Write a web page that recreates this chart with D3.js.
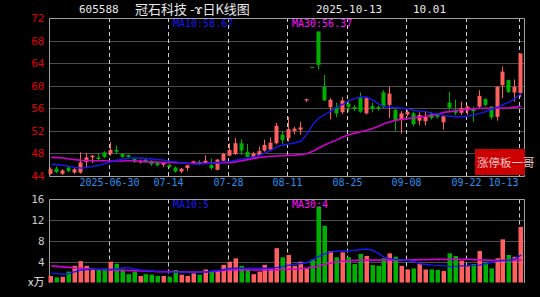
<!DOCTYPE html>
<html>
<head>
<meta charset="utf-8">
<title>605588 冠石科技 日K线图</title>
<script src="https://d3js.org/d3.v7.min.js"></script>
<style>
  body { margin: 0; background: #000; }
  svg { display: block; background: #000; }
</style>
</head>
<body>
<svg id="chart"></svg>
<script>
const dates = [
  "2025-06-16","2025-06-17","2025-06-18","2025-06-19","2025-06-20","2025-06-23","2025-06-24","2025-06-25","2025-06-26","2025-06-27",
  "2025-06-30","2025-07-01","2025-07-02","2025-07-03","2025-07-04","2025-07-07","2025-07-08","2025-07-09","2025-07-10","2025-07-11",
  "2025-07-14","2025-07-15","2025-07-16","2025-07-17","2025-07-18","2025-07-21","2025-07-22","2025-07-23","2025-07-24","2025-07-25",
  "2025-07-28","2025-07-29","2025-07-30","2025-07-31","2025-08-01","2025-08-04","2025-08-05","2025-08-06","2025-08-07","2025-08-08",
  "2025-08-11","2025-08-12","2025-08-13","2025-08-14","2025-08-15","2025-08-18","2025-08-19","2025-08-20","2025-08-21","2025-08-22",
  "2025-08-25","2025-08-26","2025-08-27","2025-08-28","2025-08-29","2025-09-01","2025-09-02","2025-09-03","2025-09-04","2025-09-05",
  "2025-09-08","2025-09-09","2025-09-10","2025-09-11","2025-09-12","2025-09-15","2025-09-16","2025-09-17","2025-09-18","2025-09-19",
  "2025-09-22","2025-09-23","2025-09-24","2025-09-25","2025-09-26","2025-09-29","2025-09-30","2025-10-09","2025-10-10","2025-10-13"
];
const openPx = [44.4,45.3,44.4,45.5,44.6,44.6,46.5,47.3,47.3,48.2, 48.0,48.6,47.9,47.7,47.1,46.4,46.9,46.7,46.5,46.0,
  46.0,45.5,44.8,45.4,46.2,46.5,46.3,45.95,45.1,46.7, 47.6,47.9,49.8,48.3,47.3,47.7,48.5,48.7,49.8,51.3,
  50.7,52.0,52.2,57.4,63.3,69.6,59.8,56.2,56.2,55.3, 56.8,56.2,58.0,55.1,56.4,56.2,58.8,56.6,55.7,54.0,
  54.9,55.1,53.8,53.7,55.0,54.8,53.5,57.0,55.7,55.2, 55.6,56.0,56.3,57.6,56.3,54.5,60.1,61.0,58.8,58.7];
const highPx = [45.5,45.7,45.2,45.8,45.4,48.2,48.1,47.7,48.0,48.4, 50.0,49.4,48.0,47.8,47.2,46.9,47.0,46.8,46.6,46.4,
  46.2,45.7,45.4,46.0,46.7,46.8,47.7,47.1,47.0,48.1, 49.8,50.7,50.5,49.7,48.3,49.2,50.4,50.8,53.4,52.0,
  54.5,52.7,53.6,57.7,63.3,69.6,61.9,57.8,57.0,58.0, 57.5,56.6,58.8,58.0,57.0,56.5,59.2,59.8,56.0,55.5,
  55.7,55.4,55.3,55.4,55.4,55.1,54.8,58.9,57.5,57.2, 56.5,56.3,59.2,57.8,56.4,59.9,63.4,61.1,61.1,65.7];
const lowPx = [44.2,44.5,44.2,44.7,44.4,44.4,45.5,46.3,46.8,47.2, 47.6,48.0,47.2,47.2,46.3,46.2,46.4,45.8,45.7,45.6,
  45.4,44.6,44.5,44.9,46.1,45.9,46.2,45.1,45.0,46.6, 47.5,47.7,47.7,47.3,47.2,47.6,48.3,48.5,49.6,49.7,
  50.1,51.4,51.3,57.1,63.3,62.9,57.3,54.05,54.4,55.0, 55.4,55.5,55.2,54.9,55.3,55.6,56.0,54.3,52.0,51.5,
  54.6,52.8,53.0,53.0,54.0,54.2,52.2,55.4,54.8,54.8, 54.8,53.6,56.0,56.3,54.0,53.8,57.8,58.7,57.2,58.0];
const closePx = [45.2,44.7,45.0,44.9,45.2,46.4,47.3,47.6,47.0,47.4, 48.6,48.3,47.4,47.4,46.5,46.7,46.6,46.1,45.9,46.3,
  45.6,44.8,45.3,45.9,46.6,46.3,46.7,45.4,46.9,47.9, 48.6,49.8,48.5,47.4,48.0,48.4,49.5,49.9,52.9,50.4,
  52.3,52.4,52.6,57.6,63.3,63.7,57.4,57.5,55.1,57.4, 56.2,55.9,55.4,57.8,55.9,55.9,56.3,58.6,53.9,55.1,
  55.4,53.2,54.8,54.5,54.3,54.5,54.6,56.1,55.2,56.0, 56.3,55.5,58.2,56.6,54.4,59.8,62.5,58.9,59.8,65.7];
const volume = [1.25,1.0,1.1,2.1,3.2,4.1,3.2,2.7,2.4,2.7, 4.0,3.6,2.5,1.6,2.1,1.25,1.6,1.5,1.25,1.25,
  1.1,2.4,1.5,1.25,1.75,1.5,2.5,2.2,2.4,3.4, 4.0,4.65,3.2,2.5,1.6,2.1,3.4,2.7,6.6,4.85,
  5.3,3.2,4.0,2.7,4.45,14.6,10.9,6.05,4.85,5.8, 4.85,3.55,5.5,5.1,3.35,3.2,4.65,5.6,4.95,3.2,
  2.5,2.7,3.55,2.5,2.5,2.4,2.2,5.6,5.1,4.2, 3.2,3.55,6.05,4.0,2.7,4.65,8.3,5.3,4.95,10.7];
const ma10 = [46.1,46.0,45.9,45.7,45.5,45.4,45.5,45.7,45.9,46.2, 46.5,46.8,47.0,47.2,47.2,47.2,47.1,47.0,46.9,46.8,
  46.6,46.5,46.3,46.2,46.1,46.1,46.2,46.3,46.4,46.5, 46.6,46.8,47.0,47.2,47.4,47.7,48.1,48.6,49.2,49.5,
  49.7,49.9,50.2,51.5,53.2,54.3,54.9,55.5,56.2,56.7, 57.3,57.7,58.0,58.0,57.5,56.8,56.3,56.2,56.1,56.0,
  55.9,55.6,55.5,55.4,55.1,55.0,54.7,54.6,54.5,54.5, 54.6,54.8,55.1,55.4,55.8,56.2,56.7,57.1,57.8,58.67];
const ma30 = [47.3,47.25,47.2,47.0,46.9,46.8,46.75,46.7,46.7,46.7, 46.65,46.65,46.65,46.7,46.7,46.6,46.5,46.5,46.45,46.4,
  46.4,46.35,46.3,46.25,46.25,46.25,46.25,46.3,46.3,46.35, 46.4,46.5,46.7,46.9,47.1,47.3,47.4,47.5,47.55,47.6,
  47.65,47.7,47.8,48.0,48.4,49.0,49.5,50.0,50.4,50.9, 51.3,51.6,51.85,52.1,52.4,52.8,53.3,53.6,53.9,54.05,
  54.2,54.3,54.45,54.6,54.75,54.95,55.3,55.4,55.6,55.7, 55.8,55.9,56.0,56.0,56.0,56.0,56.05,56.1,56.2,56.37];
const volMa10 = [1.8,1.7,1.6,1.7,2.1,2.4,2.5,2.55,2.55,2.5, 2.5,2.6,2.8,2.85,2.6,2.4,2.3,2.2,2.1,2.05,
  2.0,2.0,2.0,2.0,2.0,2.0,2.0,2.2,2.3,2.5, 2.7,2.75,2.75,2.75,2.75,2.75,2.75,2.75,2.9,3.1,
  3.35,3.5,3.65,3.8,4.4,5.0,5.5,5.9,6.0,6.05, 6.1,6.2,6.35,6.45,6.2,5.6,4.8,4.6,4.45,4.35,
  4.2,4.0,3.6,3.45,3.35,3.3,3.2,3.05,3.1,3.2, 3.2,3.3,3.35,3.6,3.9,4.15,4.25,4.3,4.6,5.3];
const volMa30 = [3.2,3.1,3.0,2.9,2.8,2.75,2.65,2.55,2.5,2.45, 2.4,2.35,2.3,2.3,2.25,2.2,2.2,2.15,2.1,2.1,
  2.1,2.05,2.05,2.0,2.0,2.0,2.05,2.1,2.2,2.3, 2.4,2.4,2.4,2.4,2.4,2.4,2.4,2.4,2.45,2.5,
  2.55,2.6,2.7,2.8,2.95,3.2,3.5,3.75,4.0,4.1, 4.2,4.25,4.3,4.3,4.3,4.3,4.3,4.3,4.3,4.3,
  4.3,4.35,4.4,4.4,4.45,4.45,4.45,4.45,4.45,4.45, 4.45,4.4,4.35,4.3,4.25,4.2,4.2,4.25,4.3,4.3];
const priceTicks = [72, 68, 64, 60, 56, 52, 48, 44];
const volTicks = [16, 12, 8, 4];
const dateTicks = ["2025-06-30","2025-07-14","2025-07-28","2025-08-11","2025-08-25","2025-09-08","2025-09-22","2025-10-13"];

const W = 540, H = 297;
const left = 49.5, right = 524.5;
const upColor = "#ff5f5f", downColor = "#00b000";
const mono = "'DejaVu Sans Mono', monospace";
const cjk = "'Noto Sans CJK SC', sans-serif";

const svg = d3.select("#chart").attr("width", W).attr("height", H);

const x = d3.scaleBand().domain(dates).range([48.3, 524.3]).padding(0);
const cx = d => x(d) + x.bandwidth() / 2;
const y = d3.scaleLinear().domain([44, 72]).range([176, 18]);
const yv = d3.scaleLinear().domain([0, 16]).range([282.5, 199.3]);

const bars = dates.map((d, i) => ({
  date: d, o: openPx[i], h: highPx[i], l: lowPx[i], c: closePx[i], v: volume[i],
  up: closePx[i] > openPx[i]
}));

// grid lines
const grid = svg.append("g");
grid.selectAll("line.hp").data(priceTicks.filter(t => t !== 72 && t !== 44)).join("line")
  .attr("x1", left).attr("x2", right)
  .attr("y1", d => Math.round(y(d)) + 0.5).attr("y2", d => Math.round(y(d)) + 0.5)
  .attr("stroke", "#9a9a9a").attr("stroke-dasharray", "1,1");
grid.selectAll("line.hv").data(volTicks.filter(t => t !== 16)).join("line")
  .attr("x1", left).attr("x2", right)
  .attr("y1", d => Math.round(yv(d)) + 0.5).attr("y2", d => Math.round(yv(d)) + 0.5)
  .attr("stroke", "#9a9a9a").attr("stroke-dasharray", "1,1");

const vx = d => Math.round(x(d)) + 1.5;
grid.selectAll("line.vt").data(dateTicks).join("line")
  .attr("x1", vx).attr("x2", vx).attr("y1", 18).attr("y2", 176)
  .attr("stroke", "#d0d0d0").attr("stroke-dasharray", "4,3");
grid.selectAll("line.vb").data(dateTicks).join("line")
  .attr("x1", vx).attr("x2", vx).attr("y1", 199.5).attr("y2", 282)
  .attr("stroke", "#d0d0d0").attr("stroke-dasharray", "4,3");

// panel borders
svg.append("path")
  .attr("d", `M${left},176.5 V18.5 H${right} V176.5 H${left}`)
  .attr("fill", "none").attr("stroke", "#a0a0a0");
svg.append("path")
  .attr("d", `M${left},283 V199.5 H${right} V283`)
  .attr("fill", "none").attr("stroke", "#a0a0a0");

// candles
const candles = svg.append("g");
candles.selectAll("line").data(bars).join("line")
  .attr("x1", d => Math.round(cx(d.date)) - 0.5).attr("x2", d => Math.round(cx(d.date)) - 0.5)
  .attr("y1", d => y(d.h)).attr("y2", d => y(d.l))
  .attr("stroke", d => d.up ? upColor : downColor);
candles.selectAll("rect").data(bars).join("rect")
  .attr("x", d => Math.round(cx(d.date)) - 2.5)
  .attr("width", 4)
  .attr("y", d => y(Math.max(d.o, d.c)))
  .attr("height", d => Math.max(1, Math.abs(y(d.o) - y(d.c))))
  .attr("fill", d => d.up ? upColor : downColor);

// volume bars
svg.append("g").selectAll("rect").data(bars).join("rect")
  .attr("x", d => Math.round(cx(d.date)) - 2.5)
  .attr("width", 4.5)
  .attr("y", d => yv(d.v))
  .attr("height", d => yv(0) - yv(d.v))
  .attr("fill", d => d.up ? upColor : downColor);

// moving averages
const lineP = d3.line().x((v, i) => cx(dates[i])).y(v => y(v));
const lineV = d3.line().x((v, i) => cx(dates[i])).y(v => yv(v));
svg.append("path").attr("d", lineP(ma30)).attr("fill", "none").attr("stroke", "#d000d0").attr("stroke-width", 1.6);
svg.append("path").attr("d", lineP(ma10)).attr("fill", "none").attr("stroke", "#1818f0").attr("stroke-width", 1.4);
svg.append("path").attr("d", lineV(volMa30)).attr("fill", "none").attr("stroke", "#d000d0").attr("stroke-width", 1.6);
svg.append("path").attr("d", lineV(volMa10)).attr("fill", "none").attr("stroke", "#1818f0").attr("stroke-width", 1.4);

// axes
const yAxis = svg.append("g").attr("transform", `translate(${left},0)`)
  .call(d3.axisLeft(y).tickValues(priceTicks).tickSize(0).tickPadding(5).tickFormat(d3.format("d")));
yAxis.select(".domain").remove();
yAxis.selectAll("text").attr("fill", "#e00000").style("font", `11px ${mono}`);

const vAxis = svg.append("g").attr("transform", `translate(${left},0)`)
  .call(d3.axisLeft(yv).tickValues(volTicks).tickSize(0).tickPadding(5).tickFormat(d3.format("d")));
vAxis.select(".domain").remove();
vAxis.selectAll("text").attr("fill", "#c8c8c8").style("font", `11px ${mono}`);

const xAxis = svg.append("g").attr("transform", "translate(0,178)")
  .call(d3.axisBottom(x).tickValues(dateTicks).tickSize(0).tickPadding(1)
    .tickFormat((d, i) => i === 0 ? d : d.slice(5)));
xAxis.select(".domain").remove();
xAxis.selectAll(".tick").attr("transform", d => `translate(${vx(d)},0)`);
xAxis.selectAll("text").attr("fill", "#2b90ea").style("font", `10px ${mono}`)
  .attr("text-anchor", (d, i) => i === dateTicks.length - 1 ? "end" : "middle")
  .attr("dx", (d, i) => i === dateTicks.length - 1 ? -1 : 0);

svg.append("text").attr("x", 28).attr("y", 286).attr("fill", "#e8e8e8")
  .style("font", `11px ${cjk}`).text("x万");

// header
svg.append("text").attr("x", 79).attr("y", 13).attr("fill", "#e8e8e8")
  .style("font", `11px ${mono}`).text("605588");
svg.append("text").attr("x", 135).attr("y", 14).attr("fill", "#e8e8e8")
  .style("font", `13px ${cjk}`).text("冠石科技 -ɤ日K线图");
svg.append("text").attr("x", 316).attr("y", 13).attr("fill", "#e8e8e8")
  .style("font", `11px ${mono}`).text("2025-10-13");
svg.append("text").attr("x", 413).attr("y", 13).attr("fill", "#e8e8e8")
  .style("font", `11px ${mono}`).text("10.01");

// MA legends
svg.append("text").attr("x", 173).attr("y", 27).attr("fill", "#1818f0")
  .style("font", `10px ${mono}`).text("MA10:" + ma10[ma10.length - 1].toFixed(2));
svg.append("text").attr("x", 292).attr("y", 27).attr("fill", "#ff10ff")
  .style("font", `10px ${mono}`).text("MA30:" + ma30[ma30.length - 1].toFixed(2));
svg.append("text").attr("x", 173).attr("y", 208).attr("fill", "#1818f0")
  .style("font", `10px ${mono}`).text("MA10:" + Math.round(volMa10[volMa10.length - 1]));
svg.append("text").attr("x", 292).attr("y", 208).attr("fill", "#ff10ff")
  .style("font", `10px ${mono}`).text("MA30:" + Math.round(volMa30[volMa30.length - 1]));

// badge
svg.append("rect").attr("x", 475).attr("y", 149).attr("width", 50).attr("height", 26).attr("fill", "#cc0000");
svg.append("text").attr("x", 477).attr("y", 167).attr("fill", "#f0c4c4")
  .style("font", `11.5px ${cjk}`).text("涨停板一哥");
</script>
</body>
</html>
